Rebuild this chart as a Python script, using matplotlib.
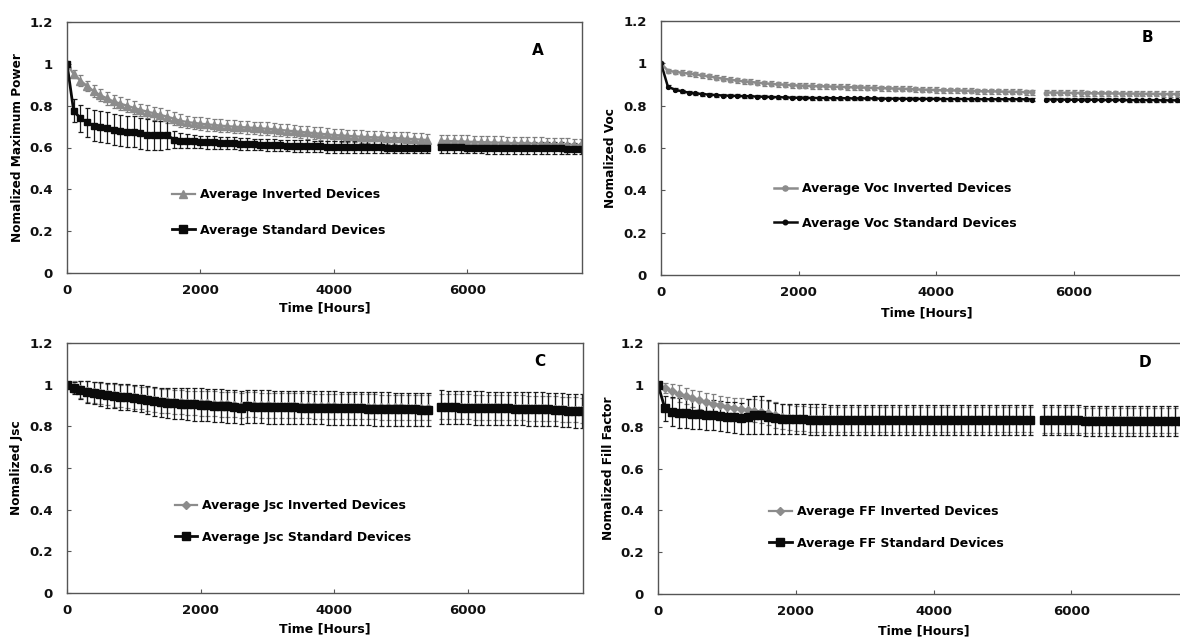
import matplotlib.pyplot as plt
from matplotlib.lines import Line2D
import numpy as np

plt.rcParams.update({'font.family': 'DejaVu Sans', 'font.weight': 'bold', 'font.size': 9})

GRAY = '#8c8c8c'
BLACK = '#0a0a0a'

# time axis: measurements every 100 h, with a break between 5400 and 5600 h
hours = [0, 100, 200, 300, 400, 500, 600, 700, 800, 900,
         1000, 1100, 1200, 1300, 1400, 1500, 1600, 1700, 1800, 1900,
         2000, 2100, 2200, 2300, 2400, 2500, 2600, 2700, 2800, 2900,
         3000, 3100, 3200, 3300, 3400, 3500, 3600, 3700, 3800, 3900,
         4000, 4100, 4200, 4300, 4400, 4500, 4600, 4700, 4800, 4900,
         5000, 5100, 5200, 5300, 5400, 5600, 5700, 5800, 5900,
         6000, 6100, 6200, 6300, 6400, 6500, 6600, 6700, 6800, 6900,
         7000, 7100, 7200, 7300, 7400, 7500, 7600, 7700]

# (A) maximum power
pmax_inv = [1.00, 0.95, 0.92, 0.895, 0.87, 0.85, 0.835, 0.82, 0.81, 0.80,
            0.79, 0.78, 0.772, 0.764, 0.756, 0.748, 0.738, 0.728, 0.722, 0.718,
            0.714, 0.711, 0.708, 0.705, 0.702, 0.70, 0.698, 0.696, 0.694, 0.692,
            0.69, 0.687, 0.684, 0.681, 0.678, 0.675, 0.672, 0.669, 0.666, 0.663,
            0.66, 0.658, 0.656, 0.654, 0.652, 0.65, 0.649, 0.648, 0.646, 0.645,
            0.644, 0.642, 0.64, 0.638, 0.636, 0.632, 0.631, 0.63, 0.629,
            0.628, 0.627, 0.626, 0.625, 0.624, 0.623, 0.622, 0.621, 0.62, 0.62,
            0.619, 0.618, 0.617, 0.616, 0.615, 0.614, 0.613, 0.612]
pmax_inv_err = [0.0, 0.02, 0.025, 0.025, 0.028, 0.028, 0.03, 0.03, 0.03, 0.03,
                0.03, 0.03, 0.031, 0.031, 0.031, 0.031, 0.031, 0.03, 0.03, 0.03,
                0.03, 0.03, 0.03, 0.03, 0.03, 0.03, 0.03, 0.03, 0.03, 0.03,
                0.03, 0.03, 0.03, 0.03, 0.03, 0.03, 0.03, 0.03, 0.03, 0.03,
                0.03, 0.03, 0.03, 0.03, 0.03, 0.03, 0.03, 0.03, 0.03, 0.03,
                0.03, 0.03, 0.03, 0.03, 0.03, 0.03, 0.03, 0.03, 0.03,
                0.03, 0.03, 0.03, 0.03, 0.03, 0.03, 0.03, 0.03, 0.03, 0.03,
                0.03, 0.03, 0.03, 0.03, 0.03, 0.03, 0.03, 0.03]
pmax_std = [1.00, 0.775, 0.74, 0.72, 0.705, 0.70, 0.695, 0.685, 0.68, 0.675,
            0.675, 0.668, 0.662, 0.658, 0.658, 0.66, 0.638, 0.633, 0.632, 0.63,
            0.627, 0.625, 0.624, 0.622, 0.621, 0.62, 0.618, 0.616, 0.615, 0.614,
            0.612, 0.611, 0.61, 0.609, 0.608, 0.607, 0.606, 0.605, 0.605, 0.604,
            0.603, 0.603, 0.602, 0.602, 0.602, 0.601, 0.601, 0.601, 0.60, 0.60,
            0.60, 0.60, 0.60, 0.60, 0.60, 0.602, 0.602, 0.601, 0.601,
            0.60, 0.60, 0.60, 0.599, 0.599, 0.599, 0.598, 0.598, 0.598, 0.597,
            0.597, 0.597, 0.596, 0.596, 0.596, 0.595, 0.595, 0.595]
pmax_std_err = [0.0, 0.055, 0.065, 0.07, 0.072, 0.075, 0.075, 0.075, 0.075, 0.075,
                0.075, 0.075, 0.072, 0.07, 0.07, 0.068, 0.04, 0.035, 0.032, 0.03,
                0.03, 0.03, 0.03, 0.03, 0.028, 0.028, 0.028, 0.028, 0.028, 0.028,
                0.028, 0.028, 0.028, 0.028, 0.028, 0.028, 0.028, 0.028, 0.028, 0.028,
                0.028, 0.028, 0.028, 0.028, 0.028, 0.028, 0.028, 0.028, 0.028, 0.028,
                0.028, 0.028, 0.028, 0.028, 0.028, 0.028, 0.028, 0.028, 0.028,
                0.028, 0.028, 0.028, 0.028, 0.028, 0.028, 0.028, 0.028, 0.028, 0.028,
                0.028, 0.028, 0.028, 0.028, 0.028, 0.028, 0.028, 0.028]

# (B) Voc
voc_inv = [1.00, 0.965, 0.96, 0.956, 0.952, 0.948, 0.943, 0.938, 0.933, 0.928,
           0.923, 0.919, 0.915, 0.912, 0.909, 0.906, 0.903, 0.901, 0.899, 0.897,
           0.895, 0.894, 0.893, 0.892, 0.891, 0.89, 0.889, 0.888, 0.887, 0.886,
           0.885, 0.884, 0.883, 0.882, 0.881, 0.88, 0.879, 0.877, 0.876, 0.875,
           0.874, 0.873, 0.872, 0.872, 0.871, 0.87, 0.869, 0.868, 0.868, 0.867,
           0.866, 0.866, 0.865, 0.864, 0.864, 0.862, 0.862, 0.861, 0.861,
           0.86, 0.86, 0.859, 0.859, 0.858, 0.858, 0.858, 0.857, 0.857, 0.857,
           0.856, 0.856, 0.856, 0.855, 0.855, 0.855, 0.855, 0.854]
voc_inv_err = [0.0, 0.01, 0.01, 0.011, 0.011, 0.011, 0.012, 0.012, 0.012, 0.012,
               0.012, 0.012, 0.012, 0.012, 0.012, 0.012, 0.012, 0.012, 0.012, 0.012,
               0.012, 0.012, 0.012, 0.012, 0.012, 0.012, 0.012, 0.012, 0.012, 0.012,
               0.012, 0.012, 0.012, 0.012, 0.012, 0.012, 0.012, 0.012, 0.012, 0.012,
               0.012, 0.012, 0.012, 0.012, 0.012, 0.012, 0.012, 0.012, 0.012, 0.012,
               0.012, 0.012, 0.012, 0.012, 0.012, 0.012, 0.012, 0.012, 0.012,
               0.012, 0.012, 0.012, 0.012, 0.012, 0.012, 0.012, 0.012, 0.012, 0.012,
               0.012, 0.012, 0.012, 0.012, 0.012, 0.012, 0.012, 0.012]
voc_std = [1.00, 0.89, 0.876, 0.868, 0.862, 0.858, 0.855, 0.852, 0.85, 0.848,
           0.847, 0.846, 0.845, 0.844, 0.843, 0.842, 0.841, 0.84, 0.839, 0.838,
           0.837, 0.837, 0.836, 0.836, 0.836, 0.835, 0.835, 0.835, 0.834, 0.834,
           0.834, 0.834, 0.833, 0.833, 0.833, 0.833, 0.832, 0.832, 0.832, 0.832,
           0.832, 0.831, 0.831, 0.831, 0.831, 0.831, 0.83, 0.83, 0.83, 0.83,
           0.83, 0.83, 0.83, 0.83, 0.829, 0.829, 0.829, 0.829, 0.828,
           0.828, 0.828, 0.828, 0.828, 0.827, 0.827, 0.827, 0.827, 0.826, 0.826,
           0.826, 0.826, 0.826, 0.825, 0.825, 0.825, 0.825, 0.824]
voc_std_err = [0.0, 0.006, 0.006, 0.006, 0.007, 0.007, 0.007, 0.007, 0.007, 0.007,
               0.007, 0.007, 0.007, 0.007, 0.007, 0.007, 0.007, 0.007, 0.007, 0.007,
               0.007, 0.007, 0.007, 0.007, 0.007, 0.007, 0.007, 0.007, 0.007, 0.007,
               0.007, 0.007, 0.007, 0.007, 0.007, 0.007, 0.007, 0.007, 0.007, 0.007,
               0.007, 0.007, 0.007, 0.007, 0.007, 0.007, 0.007, 0.007, 0.007, 0.007,
               0.007, 0.007, 0.007, 0.007, 0.007, 0.007, 0.007, 0.007, 0.007,
               0.007, 0.007, 0.007, 0.007, 0.007, 0.007, 0.007, 0.007, 0.007, 0.007,
               0.007, 0.007, 0.007, 0.007, 0.007, 0.007, 0.007, 0.007]

# (C) Jsc
jsc_inv = [1.00, 0.988, 0.978, 0.968, 0.963, 0.958, 0.953, 0.949, 0.946, 0.943,
           0.94, 0.936, 0.932, 0.927, 0.922, 0.92, 0.918, 0.916, 0.914, 0.913,
           0.912, 0.91, 0.909, 0.907, 0.905, 0.903, 0.90, 0.904, 0.903, 0.902,
           0.901, 0.90, 0.90, 0.899, 0.899, 0.898, 0.898, 0.897, 0.897, 0.896,
           0.896, 0.895, 0.895, 0.894, 0.894, 0.893, 0.893, 0.892, 0.892, 0.891,
           0.891, 0.89, 0.89, 0.889, 0.889, 0.895, 0.894, 0.894, 0.893,
           0.893, 0.892, 0.892, 0.891, 0.891, 0.89, 0.89, 0.889, 0.889, 0.888,
           0.887, 0.886, 0.885, 0.884, 0.882, 0.88, 0.879, 0.877]
jsc_inv_err = [0.0, 0.03, 0.04, 0.05, 0.05, 0.052, 0.052, 0.054, 0.054, 0.055,
               0.055, 0.055, 0.056, 0.056, 0.057, 0.057, 0.058, 0.058, 0.058, 0.058,
               0.06, 0.06, 0.06, 0.06, 0.06, 0.06, 0.06, 0.06, 0.06, 0.06,
               0.06, 0.06, 0.06, 0.06, 0.06, 0.06, 0.06, 0.06, 0.06, 0.06,
               0.06, 0.06, 0.06, 0.06, 0.06, 0.06, 0.06, 0.06, 0.06, 0.06,
               0.06, 0.06, 0.06, 0.06, 0.06, 0.06, 0.06, 0.06, 0.06,
               0.06, 0.06, 0.06, 0.06, 0.06, 0.06, 0.06, 0.06, 0.06, 0.06,
               0.06, 0.06, 0.06, 0.06, 0.06, 0.06, 0.06, 0.06]
jsc_std = [1.00, 0.985, 0.975, 0.965, 0.96, 0.955, 0.95, 0.946, 0.942, 0.94,
           0.936, 0.932, 0.926, 0.92, 0.915, 0.912, 0.91, 0.908, 0.906, 0.905,
           0.904, 0.902, 0.90, 0.898, 0.896, 0.894, 0.89, 0.896, 0.895, 0.894,
           0.893, 0.892, 0.892, 0.891, 0.891, 0.89, 0.89, 0.889, 0.889, 0.888,
           0.888, 0.887, 0.887, 0.886, 0.886, 0.885, 0.884, 0.883, 0.883, 0.882,
           0.882, 0.881, 0.881, 0.88, 0.88, 0.893, 0.892, 0.891, 0.89,
           0.889, 0.888, 0.888, 0.887, 0.887, 0.886, 0.886, 0.885, 0.885, 0.884,
           0.884, 0.883, 0.882, 0.88, 0.878, 0.876, 0.874, 0.873]
jsc_std_err = [0.0, 0.03, 0.045, 0.055, 0.055, 0.058, 0.06, 0.06, 0.062, 0.062,
               0.064, 0.065, 0.066, 0.068, 0.07, 0.072, 0.074, 0.075, 0.076, 0.077,
               0.078, 0.078, 0.078, 0.079, 0.079, 0.079, 0.08, 0.08, 0.08, 0.08,
               0.08, 0.08, 0.08, 0.08, 0.08, 0.08, 0.08, 0.08, 0.08, 0.08,
               0.08, 0.08, 0.08, 0.08, 0.08, 0.08, 0.08, 0.08, 0.08, 0.08,
               0.08, 0.08, 0.08, 0.08, 0.08, 0.08, 0.08, 0.08, 0.08,
               0.08, 0.08, 0.08, 0.08, 0.08, 0.08, 0.08, 0.08, 0.08, 0.08,
               0.08, 0.08, 0.08, 0.08, 0.08, 0.08, 0.08, 0.08]

# (D) fill factor
ff_inv = [1.00, 0.985, 0.97, 0.958, 0.947, 0.936, 0.927, 0.918, 0.91, 0.903,
          0.896, 0.891, 0.886, 0.88, 0.876, 0.872, 0.864, 0.856, 0.848, 0.842,
          0.838, 0.837, 0.836, 0.836, 0.835, 0.835, 0.835, 0.834, 0.834, 0.834,
          0.834, 0.834, 0.834, 0.834, 0.834, 0.834, 0.834, 0.834, 0.834, 0.834,
          0.834, 0.834, 0.834, 0.834, 0.834, 0.834, 0.834, 0.834, 0.834, 0.834,
          0.834, 0.834, 0.833, 0.833, 0.833, 0.832, 0.832, 0.832, 0.832,
          0.832, 0.832, 0.831, 0.831, 0.831, 0.831, 0.83, 0.83, 0.83, 0.83,
          0.83, 0.829, 0.829, 0.829, 0.828, 0.828, 0.828, 0.828]
ff_inv_err = [0.0, 0.025, 0.035, 0.04, 0.04, 0.04, 0.042, 0.042, 0.044, 0.045,
              0.046, 0.048, 0.05, 0.052, 0.055, 0.056, 0.058, 0.06, 0.06, 0.06,
              0.06, 0.06, 0.06, 0.06, 0.06, 0.06, 0.06, 0.06, 0.06, 0.06,
              0.06, 0.06, 0.06, 0.06, 0.06, 0.06, 0.06, 0.06, 0.06, 0.06,
              0.06, 0.06, 0.06, 0.06, 0.06, 0.06, 0.06, 0.06, 0.06, 0.06,
              0.06, 0.06, 0.06, 0.06, 0.06, 0.06, 0.06, 0.06, 0.06,
              0.06, 0.06, 0.06, 0.06, 0.06, 0.06, 0.06, 0.06, 0.06, 0.06,
              0.06, 0.06, 0.06, 0.06, 0.06, 0.06, 0.06, 0.06]
ff_std = [1.00, 0.888, 0.872, 0.867, 0.864, 0.861, 0.859, 0.857, 0.856, 0.852,
          0.848, 0.844, 0.84, 0.848, 0.856, 0.855, 0.846, 0.84, 0.838, 0.836,
          0.835, 0.835, 0.834, 0.834, 0.834, 0.833, 0.833, 0.833, 0.833, 0.833,
          0.832, 0.832, 0.832, 0.832, 0.832, 0.832, 0.832, 0.832, 0.832, 0.832,
          0.832, 0.832, 0.832, 0.832, 0.832, 0.832, 0.832, 0.832, 0.832, 0.832,
          0.832, 0.832, 0.831, 0.831, 0.83, 0.83, 0.83, 0.83, 0.83,
          0.83, 0.83, 0.829, 0.829, 0.829, 0.829, 0.828, 0.828, 0.828, 0.828,
          0.828, 0.827, 0.827, 0.827, 0.826, 0.826, 0.826, 0.826]
ff_std_err = [0.0, 0.06, 0.07, 0.072, 0.072, 0.072, 0.072, 0.072, 0.072, 0.072,
              0.072, 0.072, 0.075, 0.085, 0.09, 0.09, 0.08, 0.075, 0.072, 0.072,
              0.072, 0.072, 0.072, 0.072, 0.072, 0.072, 0.072, 0.072, 0.072, 0.072,
              0.072, 0.072, 0.072, 0.072, 0.072, 0.072, 0.072, 0.072, 0.072, 0.072,
              0.072, 0.072, 0.072, 0.072, 0.072, 0.072, 0.072, 0.072, 0.072, 0.072,
              0.072, 0.072, 0.072, 0.072, 0.072, 0.072, 0.072, 0.072, 0.072,
              0.072, 0.072, 0.072, 0.072, 0.072, 0.072, 0.072, 0.072, 0.072, 0.072,
              0.072, 0.072, 0.072, 0.072, 0.072, 0.072, 0.072, 0.072]

yticks = [0, 0.2, 0.4, 0.6, 0.8, 1, 1.2]
xticks = [0, 2000, 4000, 6000]

fig = plt.figure(figsize=(11.8, 6.38), dpi=100)

t = np.array(hours)
segments = [t < 5500, t > 5500]


def series(ax, y, err, color, ecolor, marker, ms, lw):
    y = np.array(y)
    err = np.array(err)
    for m in segments:
        ax.errorbar(t[m], y[m], yerr=err[m], color=color, marker=marker, ms=ms,
                    mec=color, mfc=color, lw=lw, ecolor=ecolor, elinewidth=0.9,
                    capsize=1.8, capthick=0.9)
    return Line2D([], [], color=color, marker=marker, ms=ms + 0.5, lw=lw)


def panel(rect, ylabel, letter, letter_xy, ylabel_xy, xlabel_y, inv, std,
          labels, leg_xy, leg_space):
    ax = fig.add_axes(rect)
    h1 = series(ax, *inv)
    h2 = series(ax, *std)
    ax.set_xlim(0, 7720)
    ax.set_ylim(0, 1.2)
    ax.set_xticks(xticks)
    ax.set_yticks(yticks)
    ax.set_yticklabels(['{:g}'.format(v) for v in yticks])
    ax.tick_params(direction='in', length=3, width=0.8, color='#555555',
                   labelcolor='#111111', labelsize=9.5)
    ax.tick_params(axis='x', pad=8)
    ax.tick_params(axis='y', pad=10)
    for s in ax.spines.values():
        s.set_color('#555555')
        s.set_linewidth(1.0)
    ax.set_ylabel(ylabel, fontsize=8.7, fontweight='bold')
    ax.yaxis.set_label_coords(ylabel_xy[0], ylabel_xy[1])
    ax.set_xlabel('Time [Hours]', fontsize=9, fontweight='bold')
    ax.xaxis.set_label_coords(0.5, xlabel_y)
    ax.text(letter_xy[0], letter_xy[1], letter, transform=ax.transAxes,
            ha='center', va='center', fontsize=11, fontweight='bold')
    ax.legend([h1, h2], labels, loc='center left', bbox_to_anchor=leg_xy,
              frameon=False, borderpad=0, borderaxespad=0, handlelength=1.8,
              handletextpad=0.4, labelspacing=leg_space, fontsize=9)
    return ax


W, H = 1180, 638

panel([67 / W, (H - 273) / H, 515 / W, 251 / H], 'Nomalized Maximum Power', 'A',
      (0.915, 0.888), (-0.083, 0.5), -0.115,
      (pmax_inv, pmax_inv_err, GRAY, '#7f7f7f', '^', 5.5, 1.6),
      (pmax_std, pmax_std_err, BLACK, '#1a1a1a', 's', 5, 2.0),
      ['Average Inverted Devices', 'Average Standard Devices'],
      (0.204, 0.241), 1.8)

panel([661 / W, (H - 275) / H, 531 / W, 254 / H], 'Nomalized Voc', 'B',
      (0.917, 0.937), (-0.083, 0.46), -0.122,
      (voc_inv, voc_inv_err, GRAY, '#7f7f7f', 'o', 3.2, 1.8),
      (voc_std, voc_std_err, BLACK, '#1a1a1a', 'o', 2.8, 1.8),
      ['Average Voc Inverted Devices', 'Average Voc Standard Devices'],
      (0.213, 0.272), 1.7)

panel([67 / W, (H - 593) / H, 516 / W, 250 / H], 'Nomalized Jsc', 'C',
      (0.917, 0.924), (-0.085, 0.502), -0.116,
      (jsc_inv, jsc_inv_err, GRAY, '#7f7f7f', 'D', 3.8, 1.6),
      (jsc_std, jsc_std_err, BLACK, '#1a1a1a', 's', 5.5, 2.0),
      ['Average Jsc Inverted Devices', 'Average Jsc Standard Devices'],
      (0.209, 0.286), 1.45)

panel([658 / W, (H - 594) / H, 532 / W, 251 / H], 'Nomalized Fill Factor', 'D',
      (0.915, 0.924), (-0.081, 0.502), -0.12,
      (ff_inv, ff_inv_err, GRAY, '#7f7f7f', 'D', 3.8, 1.6),
      (ff_std, ff_std_err, BLACK, '#1a1a1a', 's', 5.5, 2.0),
      ['Average FF Inverted Devices', 'Average FF Standard Devices'],
      (0.209, 0.265), 1.45)

fig.savefig('out.png', dpi=100)
